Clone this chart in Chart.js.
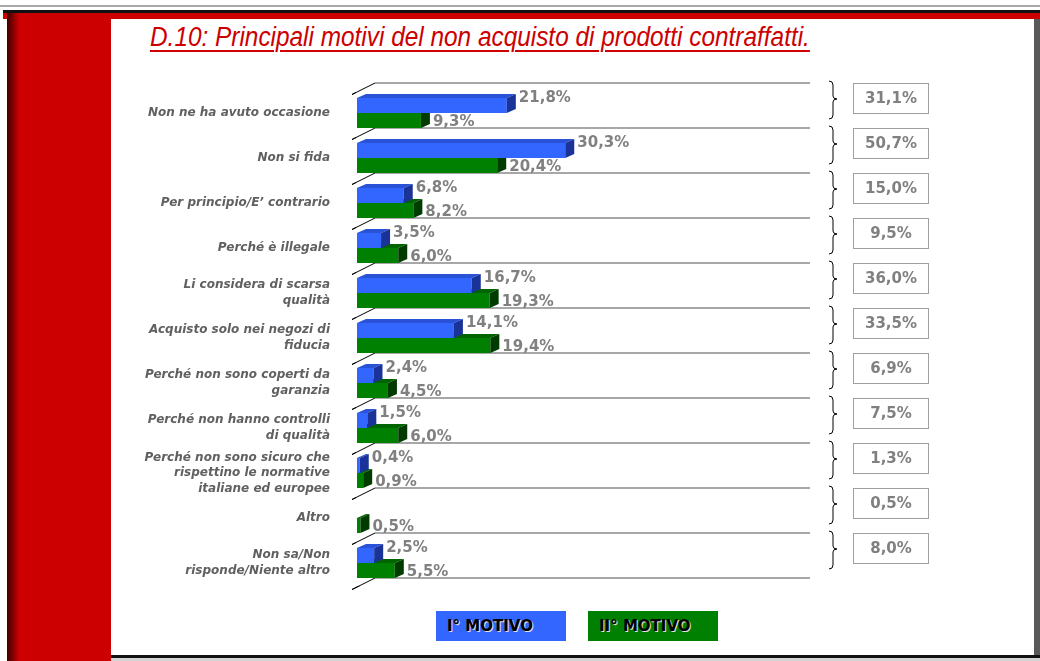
<!DOCTYPE html>
<html>
<head>
<meta charset="utf-8">
<script src="https://cdn.jsdelivr.net/npm/chart.js@4/dist/chart.umd.min.js"></script>
<style>
  html, body { margin: 0; padding: 0; background: #fff; }
  #page { position: relative; width: 1040px; height: 661px; overflow: hidden; background: #fff; }
  .abs { position: absolute; }
  #title {
    left: 150px; top: 24px; white-space: nowrap;
    font: italic 27px "Liberation Sans Narrow", "Liberation Sans", Arial, sans-serif;
    line-height: 27px; color: #cc0000;
    text-decoration: underline; text-decoration-thickness: 2px; text-underline-offset: 4px;
    transform-origin: 0 0;
  }
  .leg {
    top: 611px; width: 130px; height: 30px; box-sizing: border-box; padding-left: 11px;
    font: bold 15px "DejaVu Sans", Verdana, sans-serif; line-height: 30px; color: #000;
    text-shadow: 1px 1px 0 #e0e0e0;
  }
  #wrap { position: absolute; left: 0; top: 0; width: 1040px; height: 661px; }
</style>
</head>
<body>
<div id="page">
  <!-- cornice della slide -->
  <div class="abs" style="left:0;top:5px;width:1040px;height:2px;background:#a8a8a8"></div>
  <div class="abs" style="left:3px;top:10px;width:1037px;height:3px;background:#111"></div>
  <div class="abs" style="left:3px;top:13px;width:1037px;height:6px;background:#cc0000"></div>
  <div class="abs" style="left:7px;top:13px;width:104px;height:648px;background:linear-gradient(to right,#3a0000 0px,#cc0000 12px,#cc0000 100%)"></div>
  <div class="abs" style="left:1034px;top:19px;width:6px;height:636px;background:#595959"></div>
  <div class="abs" style="left:111px;top:655px;width:929px;height:3px;background:#111"></div>
  <div class="abs" style="left:111px;top:658px;width:929px;height:3px;background:#d4d4d4"></div>

  <div id="title" class="abs">D.10: Principali motivi del non acquisto di prodotti contraffatti.</div>

  <div id="wrap"><canvas id="chart"></canvas></div>

  <div class="abs leg" style="left:436px;background:#3366ff">I° MOTIVO</div>
  <div class="abs leg" style="left:588px;background:#008000">II° MOTIVO</div>
</div>

<script>
const categories = [
  'Non ne ha avuto occasione',
  'Non si fida',
  'Per principio/E\u2019 contrario',
  'Perché è illegale',
  ['Li considera di scarsa', 'qualità'],
  ['Acquisto solo nei negozi di', 'fiducia'],
  ['Perché non sono coperti da', 'garanzia'],
  ['Perché non hanno controlli', 'di qualità'],
  ['Perché non sono sicuro che', 'rispettino le normative', 'italiane ed europee'],
  'Altro',
  ['Non sa/Non', 'risponde/Niente altro']
];
const primoMotivo = [21.8, 30.3, 6.8, 3.5, 16.7, 14.1, 2.4, 1.5, 0.4, null, 2.5];
const secondoMotivo = [9.3, 20.4, 8.2, 6.0, 19.3, 19.4, 4.5, 6.0, 0.9, 0.5, 5.5];
const totali = [31.1, 50.7, 15.0, 9.5, 36.0, 33.5, 6.9, 7.5, 1.3, 0.5, 8.0];

const fmt = v => v.toFixed(1).replace('.', ',') + '%';

// titolo: adatta la larghezza al riquadro originale
const t = document.getElementById('title');
t.style.transform = 'scaleX(' + (660 / t.offsetWidth) + ')';

const DX = 9, DY = 4;
const colori = [
  { front: '#3366ff', top: '#2a52d6', side: '#1a3399' },
  { front: '#008000', top: '#006400', side: '#003c00' }
];

const faces = (ctx, x0, x1, y0, y1, c) => {
  ctx.fillStyle = c.front;
  ctx.fillRect(x0, y0, x1 - x0, y1 - y0);
  ctx.fillStyle = c.top;
  ctx.beginPath();
  ctx.moveTo(x0, y0); ctx.lineTo(x0 + DX, y0 - DY); ctx.lineTo(x1 + DX, y0 - DY); ctx.lineTo(x1, y0);
  ctx.closePath(); ctx.fill();
  ctx.fillStyle = c.side;
  ctx.beginPath();
  ctx.moveTo(x1, y0); ctx.lineTo(x1 + DX, y0 - DY); ctx.lineTo(x1 + DX, y1 - DY); ctx.lineTo(x1, y1);
  ctx.closePath(); ctx.fill();
};

const plugin3d = {
  id: 'plugin3d',
  beforeDatasetsDraw(chart) {
    const { ctx, chartArea: a, scales: { y } } = chart;
    const step = y.getPixelForValue(1) - y.getPixelForValue(0);
    ctx.save();
    for (let k = 0; k <= categories.length; k++) {
      const yy = y.getPixelForValue(k) - step / 2 - 7.5;
      ctx.strokeStyle = '#8a8a8a';
      ctx.lineWidth = 1.5;
      ctx.beginPath();
      ctx.moveTo(a.left + 18, yy); ctx.lineTo(a.right + 20, yy);
      ctx.stroke();
      ctx.strokeStyle = '#000';
      ctx.lineWidth = 1;
      ctx.beginPath();
      ctx.moveTo(a.left - 5, yy + 11.5); ctx.lineTo(a.left + 18, yy);
      ctx.stroke();
    }
    ctx.restore();
  },
  afterDatasetsDraw(chart) {
    const { ctx, scales: { y } } = chart;
    ctx.save();
    ctx.clearRect(chart.chartArea.left - 1, chart.chartArea.top - 10, chart.chartArea.width + 40, chart.chartArea.height + 10);
    this.beforeDatasetsDraw(chart);
    categories.forEach((c, i) => {
      [1, 0].forEach(d => {
        const v = chart.data.datasets[d].data[i];
        if (v == null) return;
        const b = chart.getDatasetMeta(d).data[i].getProps(['x', 'y', 'base', 'height'], true);
        faces(ctx, b.base, b.x, b.y - b.height / 2, b.y + b.height / 2, colori[d]);
      });
      [0, 1].forEach(d => {
        const v = chart.data.datasets[d].data[i];
        if (v == null) return;
        const b = chart.getDatasetMeta(d).data[i].getProps(['x', 'y'], true);
        ctx.font = 'bold 15px "DejaVu Sans", Verdana, sans-serif';
        ctx.fillStyle = '#808080';
        ctx.textAlign = 'left';
        ctx.textBaseline = 'middle';
        ctx.fillText(fmt(v), b.x + 12, d === 0 ? b.y - 7 : b.y + 1.5);
      });
      // graffa e riquadro del totale
      const cy = y.getPixelForValue(i) - 14;
      ctx.strokeStyle = '#000';
      ctx.lineWidth = 1;
      const top = cy - 18, bot = cy + 20, xl = 829, xm = 833, xr = 837;
      ctx.beginPath();
      ctx.moveTo(xl, top);
      ctx.quadraticCurveTo(xm, top, xm, top + 4);
      ctx.lineTo(xm, cy - 3);
      ctx.quadraticCurveTo(xm, cy, xr, cy);
      ctx.quadraticCurveTo(xm, cy, xm, cy + 3);
      ctx.lineTo(xm, bot - 4);
      ctx.quadraticCurveTo(xm, bot, xl, bot);
      ctx.stroke();
      ctx.strokeStyle = '#a0a0a0';
      ctx.strokeRect(853.5, Math.round(cy - 16) + 0.5, 75, 30);
      ctx.fillStyle = '#808080';
      ctx.textAlign = 'center';
      ctx.font = 'bold 15px "DejaVu Sans", Verdana, sans-serif';
      ctx.fillText(fmt(totali[i]), 891, cy);
    });
    ctx.restore();
  }
};

new Chart(document.getElementById('chart'), {
  type: 'bar',
  data: {
    labels: categories,
    datasets: [
      { label: 'I° MOTIVO', data: primoMotivo, backgroundColor: '#3366ff', borderWidth: 0 },
      { label: 'II° MOTIVO', data: secondoMotivo, backgroundColor: '#008000', borderWidth: 0 }
    ]
  },
  options: {
    indexAxis: 'y',
    responsive: true,
    maintainAspectRatio: false,
    animation: false,
    categoryPercentage: 30 / 45,
    barPercentage: 1,
    layout: { padding: { top: 90.5, bottom: 75.5, left: 0, right: 250 } },
    plugins: { legend: { display: false }, tooltip: { enabled: false } },
    scales: {
      x: { display: false, min: 0, max: 63 },
      y: {
        grid: { display: false, drawTicks: false },
        border: { display: false },
        afterFit(scale) { scale.width = 357; },
        ticks: {
          autoSkip: false,
          padding: 27,
          color: '#606060',
          font: { family: '"DejaVu Sans", Verdana, sans-serif', size: 12, style: 'italic', weight: 'bold', lineHeight: 1.3 }
        }
      }
    }
  },
  plugins: [plugin3d]
});
</script>
</body>
</html>
